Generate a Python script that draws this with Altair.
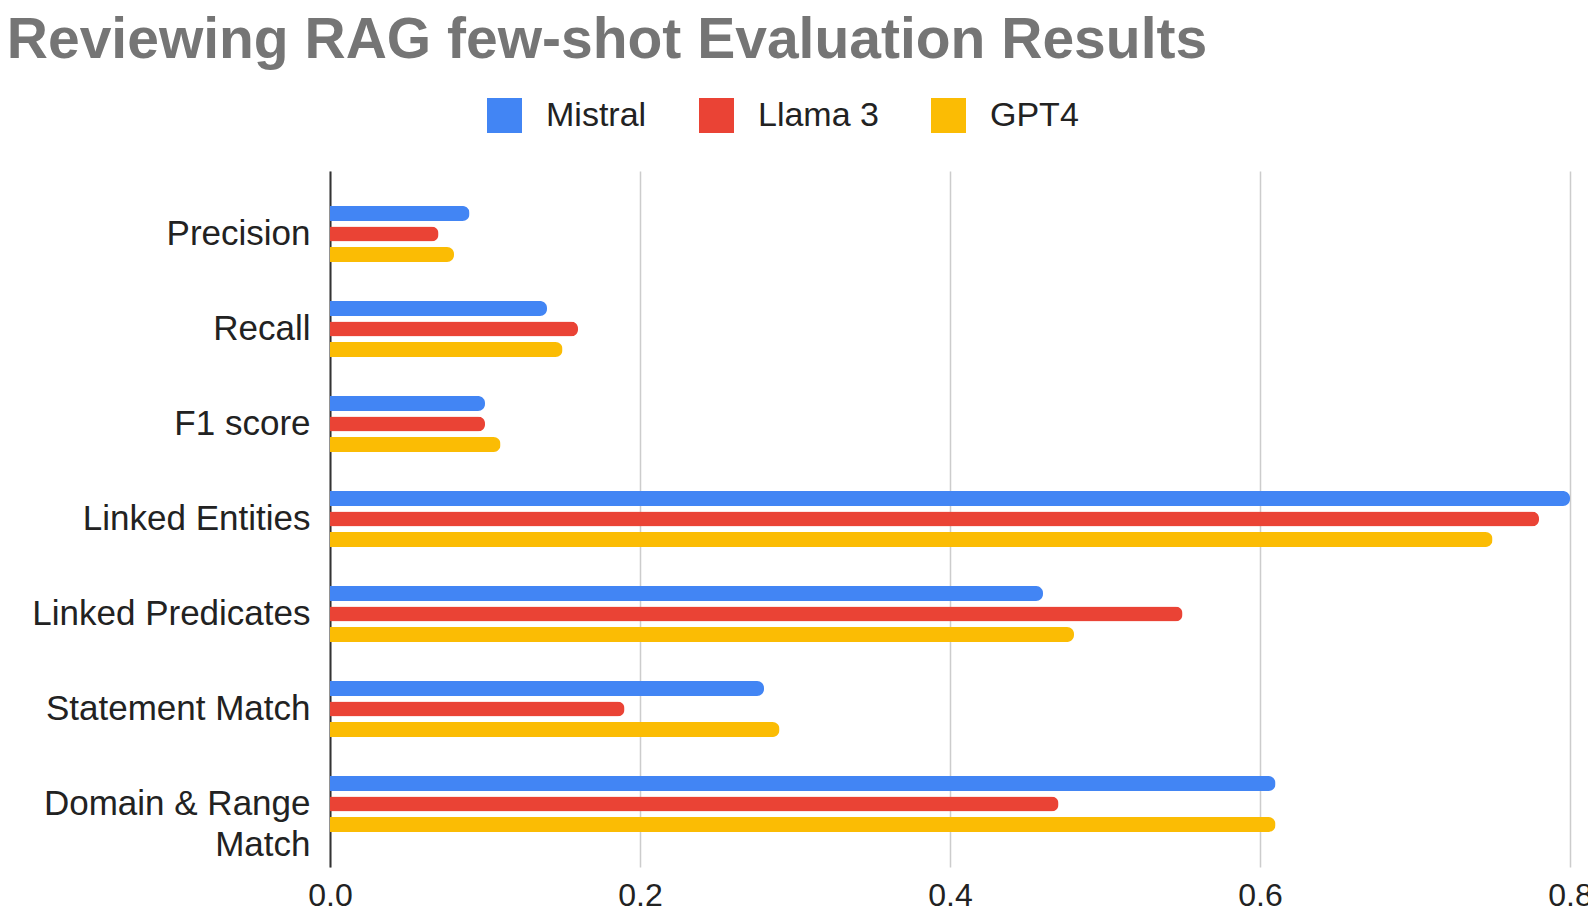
import altair as alt
import pandas as pd

categories = ["Precision", "Recall", "F1 score", "Linked Entities", "Linked Predicates",
              "Statement Match", "Domain & Range\nMatch"]
models = ["Mistral", "Llama 3", "GPT4"]
mistral = [0.09, 0.14, 0.10, 0.80, 0.46, 0.28, 0.61]
llama3 = [0.07, 0.16, 0.10, 0.78, 0.55, 0.19, 0.47]
gpt4 = [0.08, 0.15, 0.11, 0.75, 0.48, 0.29, 0.61]
colors = ["#4285F4", "#EA4335", "#FBBC04"]
x_ticks = [0.0, 0.2, 0.4, 0.6, 0.8]

rows = []
for model, vals in zip(models, [mistral, llama3, gpt4]):
    for c, v in zip(categories, vals):
        rows.append({"metric": c, "model": model, "value": v})
df = pd.DataFrame(rows)

FONT = "Liberation Sans"

chart = alt.Chart(df).mark_bar(cornerRadiusEnd=7).encode(
    x=alt.X("value:Q",
            scale=alt.Scale(domain=[0, 0.8], nice=False, zero=True),
            axis=alt.Axis(values=x_ticks, format=".1f", title=None, domain=False, ticks=False,
                          grid=True, gridColor="#cccccc", gridWidth=1.5, labelFlush=False,
                          labelFontSize=32, labelColor="#222222", labelFont=FONT,
                          labelBaseline="alphabetic", labelPadding=38)),
    y=alt.Y("metric:N", sort=categories,
            scale=alt.Scale(paddingInner=0, paddingOuter=0.163),
            axis=alt.Axis(title=None, ticks=False, domain=True, domainColor="#333333",
                          domainWidth=2, labelFontSize=35, labelColor="#222222",
                          labelFont=FONT, labelPadding=20, labelLineHeight=41, labelLimit=0,
                          labelExpr="split(datum.label, '\\n')")),
    yOffset=alt.YOffset("model:N", sort=models,
                        scale=alt.Scale(paddingInner=0.27, paddingOuter=0.95)),
    color=alt.Color("model:N", sort=models,
                    scale=alt.Scale(domain=models, range=colors),
                    legend=alt.Legend(title=None, orient="none", direction="horizontal",
                                      legendX=157, legendY=-73, symbolType="square",
                                      symbolSize=1225, symbolStrokeWidth=0,
                                      labelFontSize=34, labelColor="#222222", labelFont=FONT,
                                      labelOffset=24, columnPadding=52)),
).properties(
    width=1240,
    height=696,
    title=alt.Title("Reviewing RAG few-shot Evaluation Results", anchor="start", frame="bounds",
                    dx=-25, offset=28, fontSize=57, fontWeight="bold",
                    color="#757575", font=FONT),
    autosize=alt.AutoSizeParams(type="none"),
    padding={"left": 322, "top": 163, "right": 18, "bottom": 44},
).configure_view(stroke=None)

chart.save("out.html", embed_options={"renderer": "svg", "actions": False})
